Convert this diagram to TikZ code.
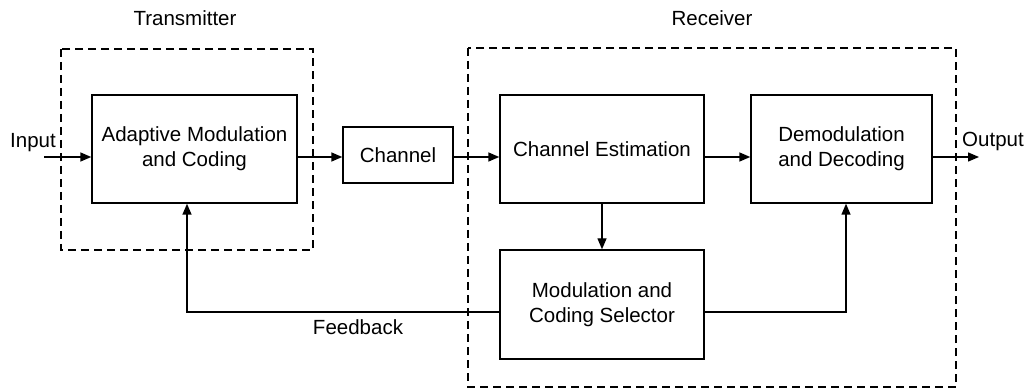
\documentclass[tikz,border=0pt]{standalone}
\usepackage{fontspec}
\setmainfont{Liberation Sans}
\usetikzlibrary{arrows.meta}
\begin{document}
\begin{tikzpicture}[x=1pt,y=-1pt,
  font=\fontsize{20.5}{25}\selectfont,
  blk/.style={draw,line width=1.4pt,align=center,inner sep=0pt},
  grp/.style={draw,line width=1.3pt,dash pattern=on 8pt off 5pt},
  arr/.style={line width=1.4pt,-{Triangle[length=11pt,width=9pt]}},
  ln/.style={line width=1.4pt},
  lbl/.style={inner sep=0pt}]
\useasboundingbox (0,0) rectangle (1031,390);
\draw[grp] (61,49) rectangle (313,250);
\draw[grp] (468,48) rectangle (956,387);
\node[lbl] (tx) at (185,18) {Transmitter};
\node[lbl] (rx) at (712,18) {Receiver};
\node[blk,minimum width=205pt,minimum height=108pt] (amc) at (194.5,149) {Adaptive Modulation\\and Coding};
\node[blk,minimum width=110pt,minimum height=56pt] (ch) at (398,155) {Channel};
\node[blk,minimum width=204pt,minimum height=108pt] (ce) at (602,149) {Channel Estimation};
\node[blk,minimum width=181pt,minimum height=108pt] (dd) at (841.5,149) {Demodulation\\and Decoding};
\node[blk,minimum width=204pt,minimum height=109pt] (mcs) at (602,304.5) {Modulation and\\Coding Selector};
\node[lbl] (inl) at (33,143) {Input};
\node[lbl,anchor=west] (outl) at (962,141) {Output};
\node[lbl] (fbl) at (358,327) {Feedback};
\coordinate (in) at (44,157);
\coordinate (out) at (979,157);
\coordinate (fb) at (187,312);
\coordinate (sel) at (846,312);
\draw[arr] (in) -- (in -| amc.west);
\draw[arr] (amc.east |- in) -- (ch.west |- in);
\draw[arr] (ch.east |- in) -- (ce.west |- in);
\draw[arr] (ce.east |- in) -- (dd.west |- in);
\draw[arr] (dd.east |- in) -- (out);
\draw[arr] (ce.south) -- (mcs.north);
\draw[arr] (mcs.west |- fb) -- (fb) -- (fb |- amc.south);
\draw[arr] (mcs.east |- sel) -- (sel) -- (sel |- dd.south);
\end{tikzpicture}
\end{document}
